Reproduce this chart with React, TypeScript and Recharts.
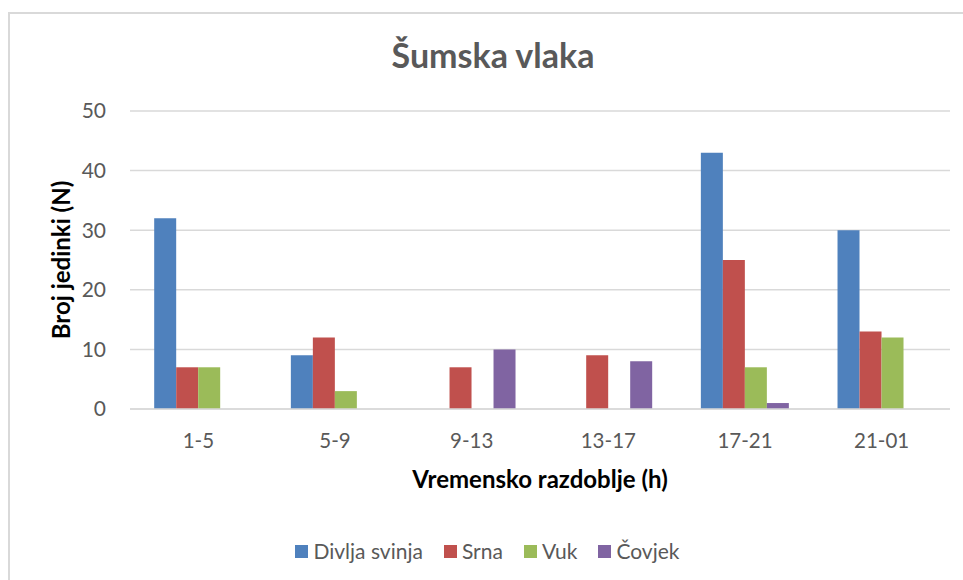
import React from 'react';
import { BarChart, Bar, XAxis, YAxis, CartesianGrid, Legend, Label } from 'recharts';

const periods = ['1-5', '5-9', '9-13', '13-17', '17-21', '21-01'];
const divljaSvinja = [32, 9, 0, 0, 43, 30];
const srna = [7, 12, 7, 9, 25, 13];
const vuk = [7, 3, 0, 0, 7, 12];
const covjek = [0, 0, 10, 8, 1, 0];
const yTicks = [0, 10, 20, 30, 40, 50];

const series = [
  { key: 'divlja', name: 'Divlja svinja', color: '#4F81BD' },
  { key: 'srna', name: 'Srna', color: '#C0504D' },
  { key: 'vuk', name: 'Vuk', color: '#9BBB59' },
  { key: 'covjek', name: 'Čovjek', color: '#8064A2' },
];

const data = periods.map((p, i) => ({
  period: p,
  divlja: divljaSvinja[i],
  srna: srna[i],
  vuk: vuk[i],
  covjek: covjek[i],
}));

const FONT = 'Lato, "Open Sans", sans-serif';
const GREY = '#595959';

function LegendContent() {
  return (
    <div style={{ display: 'flex', justifyContent: 'center', fontFamily: FONT, fontSize: 21, color: GREY, lineHeight: '24px' }}>
      {series.map((s, i) => (
        <div key={s.key} style={{ display: 'flex', alignItems: 'center', marginLeft: i === 0 ? 0 : 21 }}>
          <span style={{ width: 13, height: 13, background: s.color, marginRight: 5, display: 'inline-block' }} />
          <span>{s.name}</span>
        </div>
      ))}
    </div>
  );
}

export default function App() {
  return (
    <div
      style={{
        position: 'fixed',
        left: 8,
        top: 12,
        width: 990,
        height: 600,
        borderTop: '2px solid #D9D9D9',
        borderLeft: '2px solid #D9D9D9',
        background: '#fff',
      }}
    >
      <div
        style={{
          position: 'absolute',
          left: 0,
          width: 966,
          top: 20,
          textAlign: 'center',
          fontFamily: FONT,
          fontWeight: 700,
          fontSize: 34,
          color: GREY,
        }}
      >
        Šumska vlaka
      </div>
      <BarChart
        width={955}
        height={568}
        data={data}
        margin={{ top: 97, right: 15, bottom: 89, left: 0 }}
        barCategoryGap="17.7%"
        barGap={0}
      >
        <CartesianGrid vertical={false} stroke="#D9D9D9" strokeWidth={1.5} />
        <XAxis
          dataKey="period"
          height={60}
          axisLine={{ stroke: '#D9D9D9', strokeWidth: 1.5 }}
          tickLine={false}
          tickMargin={18}
          tick={{ fill: GREY, fontSize: 20.5, fontFamily: FONT }}
        >
          <Label
            value="Vremensko razdoblje (h)"
            position="center"
            dy={40}
            style={{ fill: '#000', fontWeight: 700, fontSize: 24, fontFamily: FONT }}
          />
        </XAxis>
        <YAxis
          width={120}
          domain={[0, 50]}
          ticks={yTicks}
          axisLine={false}
          tickLine={false}
          tickMargin={18}
          tick={{ fill: GREY, fontSize: 21, fontFamily: FONT }}
        >
          <Label
            value="Broj jedinki (N)"
            angle={-90}
            position="center"
            dx={-9}
            style={{ fill: '#000', fontWeight: 700, fontSize: 24, fontFamily: FONT, textAnchor: 'middle' }}
          />
        </YAxis>
        {series.map((s) => (
          <Bar key={s.key} dataKey={s.key} name={s.name} fill={s.color} isAnimationActive={false} />
        ))}
        <Legend content={<LegendContent />} wrapperStyle={{ top: 525, left: 0, width: 955 }} />
      </BarChart>
    </div>
  );
}
